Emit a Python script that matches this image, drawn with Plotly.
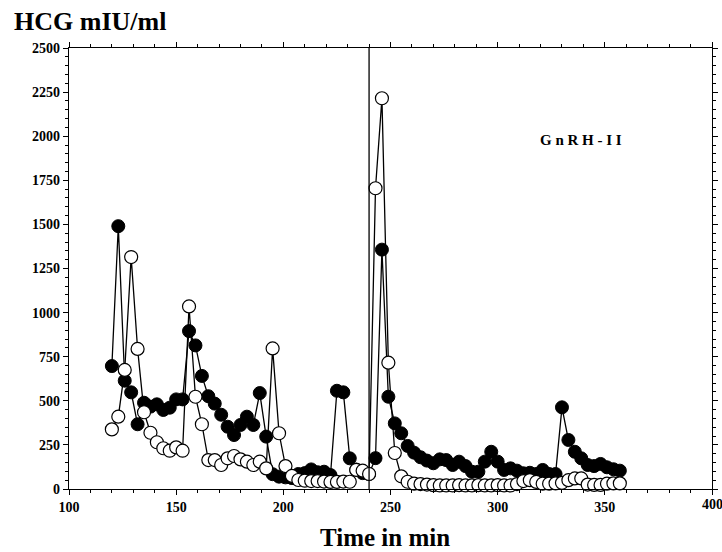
import plotly.graph_objects as go

# sampling times (min), every 3 min from 120 to 357
time_min = list(range(120, 360, 3))

# filled circles series (HCG mIU/ml)
hcg_filled = [
    697, 1490, 614, 548, 367, 489, 467, 480, 448, 461,   # 120-147
    508, 508, 895, 814, 641, 526, 484, 421, 353, 306,    # 150-177
    363, 410, 363, 544, 297, 84, 70, 66, 62, 85,         # 180-207
    90, 111, 95, 98, 79, 557, 548, 174, 110, 90,         # 210-237
    85, 175, 1357, 523, 372, 316, 244, 206, 180, 161,    # 240-267
    146, 168, 164, 136, 155, 130, 98, 98, 155, 211,      # 270-297
    155, 108, 117, 104, 89, 92, 85, 108, 85, 85,         # 300-327
    463, 278, 211, 174, 136, 130, 142, 123, 112, 104,    # 330-357
]

# open circles series (HCG mIU/ml)
hcg_open = [
    338, 410, 675, 1315, 794, 435, 319, 265, 231, 217,   # 120-147
    236, 217, 1035, 523, 367, 164, 164, 136, 174, 187,   # 150-177
    168, 155, 136, 155, 117, 797, 316, 130, 74, 51,      # 180-207
    47, 45, 45, 42, 40, 40, 42, 41, 108, 104,            # 210-237
    85, 1705, 2215, 716, 204, 72, 41, 30, 28, 25,        # 240-267
    22, 20, 20, 20, 22, 20, 20, 22, 20, 20,              # 270-297
    22, 20, 20, 28, 45, 50, 40, 30, 30, 32,              # 300-327
    35, 50, 60, 60, 25, 23, 23, 30, 32, 32,              # 330-357
]

x_ticks = [100, 150, 200, 250, 300, 350, 400]
y_ticks = [0, 250, 500, 750, 1000, 1250, 1500, 1750, 2000, 2250, 2500]
injection_time = 240

FONT = "Liberation Serif"

fig = go.Figure()
fig.add_trace(go.Scatter(
    x=time_min, y=hcg_filled, mode="lines+markers",
    line=dict(color="black", width=1.3),
    marker=dict(symbol="circle", size=13, color="black",
                line=dict(color="black", width=1)),
    showlegend=False, cliponaxis=False))
fig.add_trace(go.Scatter(
    x=time_min, y=hcg_open, mode="lines+markers",
    line=dict(color="black", width=1.3),
    marker=dict(symbol="circle", size=13, color="white",
                line=dict(color="black", width=1.2)),
    showlegend=False, cliponaxis=False))

fig.add_shape(type="line", x0=injection_time, x1=injection_time, y0=0, y1=2500,
              xref="x", yref="y", line=dict(color="black", width=1.3))

fig.add_annotation(text="<b>G n R H - I I</b>", x=339, y=1978, xref="x", yref="y",
                   showarrow=False, font=dict(family=FONT, size=15, color="black"),
                   xanchor="center", yanchor="middle")
fig.add_annotation(text="<b>HCG mIU/ml</b>", x=-0.089, y=1.059, xref="paper", yref="paper",
                   showarrow=False, font=dict(family=FONT, size=26, color="black"),
                   xanchor="left", yanchor="middle")
fig.add_annotation(text="<b>Time in min</b>", x=0.491, y=-0.109, xref="paper", yref="paper",
                   showarrow=False, font=dict(family=FONT, size=25, color="black"),
                   xanchor="center", yanchor="middle")
# last x tick label, which the axis hides because it runs past the edge
fig.add_annotation(text=f"<b>{x_ticks[-1]}</b>", x=x_ticks[-1], y=-0.036, xref="x", yref="paper",
                   showarrow=False, font=dict(family=FONT, size=14, color="black"),
                   xanchor="center", yanchor="middle")

fig.update_layout(
    width=722, height=552,
    margin=dict(l=69, r=10, t=48, b=63, autoexpand=False),
    paper_bgcolor="white", plot_bgcolor="white",
    font=dict(family=FONT, color="black"),
)
fig.update_xaxes(
    range=[100, 400], tickvals=x_ticks, ticktext=[f"<b>{v}</b>" for v in x_ticks],
    showgrid=False, zeroline=False, showline=True, linecolor="black", linewidth=1.2,
    mirror="allticks", ticks="outside", ticklen=5, tickcolor="black", automargin=False,
    minor=dict(dtick=10, ticks="outside", ticklen=3, tickcolor="black"),
    tickfont=dict(family=FONT, size=14, color="black"),
)
fig.update_yaxes(
    range=[0, 2500], tickvals=y_ticks, ticktext=[f"<b>{v}</b>" for v in y_ticks],
    showgrid=False, zeroline=False, showline=True, linecolor="black", linewidth=1.2,
    mirror="allticks", ticks="outside", ticklen=5, tickcolor="black", automargin=False,
    minor=dict(dtick=50, ticks="outside", ticklen=3, tickcolor="black"),
    tickfont=dict(family=FONT, size=14, color="black"),
)

# remove the page's default body margin so the 722x552 figure fills the window
fig.write_html("out.html", config={"displayModeBar": False},
               post_script="document.body.style.margin='0';document.body.style.overflow='hidden';")
